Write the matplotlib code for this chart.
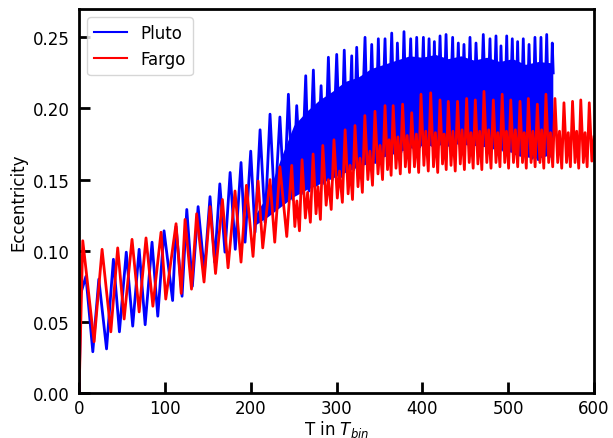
import numpy as np
import matplotlib.pyplot as plt

# Pluto: turning points (time in T_bin, eccentricity)
pluto_t = [0, 2, 8, 16, 23, 32, 40, 47, 55, 62.5, 70, 77, 85, 91.7, 99, 109, 113, 120,
           125.5, 132, 138.7, 146, 152.6, 158, 164, 170, 176, 182, 188.7, 193.4, 200,
           205, 210.9, 216.7, 222.5, 228, 234, 239,
           243.9, 249, 253.6, 259, 264.1, 268, 273, 277, 282, 286, 290.5, 295, 300.2,
           305, 309, 313, 317.7, 320, 323.5, 328, 333.2, 337, 341, 345, 348.7, 352,
           356.5, 360, 364.3, 368, 370.9, 375, 378.6, 382, 386.4, 390, 393.4, 397,
           401.2, 404, 407.8, 411, 414, 417, 420.6, 424, 427.6, 431, 435.3, 438,
           441.9, 445, 448.5, 452, 455.5, 459, 462.5, 467, 471, 475, 478.8, 482,
           485.8, 489, 491.6, 495, 498.3, 501, 504.8, 508, 511, 514, 517.6, 521,
           524.3, 528, 531.2, 535, 538.2, 541, 544.9, 548, 551.4, 552.5]
pluto_e = [0.0, 0.070, 0.082, 0.029, 0.080, 0.031, 0.094, 0.043, 0.099, 0.047, 0.101,
           0.048, 0.106, 0.054, 0.114, 0.065, 0.117, 0.068,
           0.129, 0.075, 0.131, 0.085, 0.138, 0.092, 0.147, 0.099, 0.155, 0.101,
           0.162, 0.106, 0.170, 0.113, 0.185, 0.120, 0.196, 0.129, 0.194, 0.136,
           0.210, 0.136, 0.202, 0.140, 0.223, 0.142, 0.227, 0.146, 0.216, 0.147,
           0.236, 0.150, 0.238, 0.152, 0.241, 0.155, 0.237, 0.157, 0.243, 0.158,
           0.250, 0.160, 0.245, 0.162, 0.249, 0.164, 0.249, 0.166, 0.253, 0.168,
           0.246, 0.169, 0.254, 0.170, 0.249, 0.172, 0.250, 0.173, 0.250, 0.174,
           0.249, 0.174, 0.247, 0.175, 0.251, 0.175, 0.252, 0.174, 0.250, 0.175,
           0.246, 0.176, 0.245, 0.175, 0.250, 0.174, 0.246, 0.175, 0.252, 0.173,
           0.249, 0.172, 0.251, 0.171, 0.244, 0.170, 0.251, 0.170, 0.249, 0.168,
           0.247, 0.167, 0.249, 0.166, 0.245, 0.165, 0.250, 0.164, 0.250, 0.163,
           0.252, 0.166, 0.246, 0.225]

# Pluto: solid band of fast oscillation (lower / upper edge)
band_t = [205, 220, 235, 250, 265, 280, 295, 310, 325, 340, 355, 370, 385, 400,
          415, 430, 445, 460, 475, 490, 505, 520, 535, 552]
band_lo = [0.118, 0.124, 0.131, 0.138, 0.143, 0.147, 0.151, 0.155, 0.159, 0.162,
           0.166, 0.169, 0.172, 0.174, 0.174, 0.175, 0.175, 0.174, 0.173, 0.171,
           0.169, 0.166, 0.165, 0.168]
band_hi = [0.125, 0.140, 0.165, 0.188, 0.198, 0.206, 0.212, 0.219, 0.222, 0.228,
           0.231, 0.234, 0.237, 0.236, 0.238, 0.235, 0.237, 0.234, 0.236, 0.233,
           0.235, 0.231, 0.233, 0.232]

# Fargo: turning points (peak, dip, secondary spike, dip, ...)
fargo_t = [0, 4.3, 17.5, 26.8, 37, 45, 52.5, 61.7, 70, 78, 86, 95.5, 101, 113, 119,
           123.5, 131, 137, 145.6, 152.6, 159, 167, 173.6, 181.7, 188.7, 195, 202.7,
           208.6, 214, 222.5, 228, 234, 242, 247.8,
           251.4, 253.8, 256.8, 259.8, 263.7, 266.3, 269.5, 272.7,
           276.1, 278.4, 281.2, 284, 287.9, 290.5, 293.8, 297,
           300.9, 303.5, 306.8, 310, 313.5, 315.8, 318.6, 321.5,
           325, 327.3, 330.1, 333, 336.5, 338.9, 341.9, 344.8,
           348.3, 350.7, 353.6, 356.5, 359.4, 361.3, 363.6, 366,
           369.3, 371.5, 374.3, 377, 380.2, 382.3, 385, 387.6,
           390.8, 393, 395.7, 398.4, 401.8, 404, 406.9, 409.7,
           413, 415.2, 417.9, 420.6, 423.5, 425.4, 427.8, 430.2,
           433.4, 435.6, 438.3, 441, 444.2, 446.3, 449, 451.6,
           454.6, 456.7, 459.2, 461.7, 464.7, 466.8, 469.3, 471.8,
           475.1, 477.3, 480, 482.7, 485.8, 487.9, 490.4, 493,
           496, 498, 500.5, 503, 506.2, 508.4, 511.1, 513.8,
           516.7, 518.7, 521.1, 523.5, 526.7, 528.8, 531.4, 534,
           537, 539, 541.5, 544, 547.2, 549.3, 551.9, 554.5,
           557.7, 559.8, 562.4, 565, 568, 570, 572.5, 575,
           577.9, 579.8, 582.2, 584.6, 587.6, 589.6, 592, 594.5, 597.5, 600]
fargo_e = [0.0, 0.107, 0.036, 0.101, 0.043, 0.102, 0.052, 0.108, 0.057, 0.109, 0.061,
           0.113, 0.066, 0.119, 0.070, 0.122, 0.073, 0.126, 0.078, 0.131, 0.084, 0.136,
           0.088, 0.142, 0.092, 0.146, 0.096, 0.149, 0.102, 0.150, 0.106, 0.159, 0.110,
           0.160,
           0.117, 0.135, 0.114, 0.164, 0.123, 0.141, 0.120, 0.168,
           0.126, 0.145, 0.122, 0.174, 0.132, 0.150, 0.129, 0.178,
           0.137, 0.156, 0.134, 0.185, 0.140, 0.160, 0.136, 0.188,
           0.145, 0.165, 0.141, 0.195, 0.150, 0.170, 0.146, 0.198,
           0.154, 0.174, 0.150, 0.202, 0.157, 0.178, 0.153, 0.202,
           0.158, 0.180, 0.154, 0.203, 0.159, 0.181, 0.155, 0.197,
           0.159, 0.182, 0.155, 0.210, 0.160, 0.184, 0.156, 0.211,
           0.159, 0.183, 0.155, 0.206, 0.161, 0.182, 0.157, 0.205,
           0.160, 0.184, 0.156, 0.205, 0.161, 0.185, 0.157, 0.207,
           0.162, 0.183, 0.158, 0.206, 0.161, 0.184, 0.157, 0.212,
           0.162, 0.185, 0.158, 0.206, 0.162, 0.183, 0.159, 0.210,
           0.162, 0.184, 0.158, 0.206, 0.162, 0.185, 0.159, 0.205,
           0.162, 0.183, 0.158, 0.207, 0.162, 0.184, 0.159, 0.203,
           0.162, 0.185, 0.158, 0.210, 0.162, 0.183, 0.159, 0.207,
           0.162, 0.184, 0.158, 0.204, 0.162, 0.183, 0.159, 0.205,
           0.162, 0.184, 0.158, 0.206, 0.162, 0.183, 0.159, 0.204, 0.163, 0.180]

fig = plt.figure(figsize=(6.13, 4.39), dpi=100)
ax = fig.add_axes([0.129, 0.1025, 0.840, 0.875])

ax.fill_between(band_t, band_lo, band_hi, color='blue', lw=0)
ax.plot(pluto_t, pluto_e, color='blue', lw=2, label='Pluto')
ax.plot(fargo_t, fargo_e, color='red', lw=2, label='Fargo')

ax.set_xlim(0, 600)
ax.set_ylim(0, 0.27)
ax.set_xticks(np.arange(0, 601, 100))
ax.set_yticks([0.0, 0.05, 0.10, 0.15, 0.20, 0.25])
ax.set_yticklabels(['0.00', '0.05', '0.10', '0.15', '0.20', '0.25'])
ax.tick_params(direction='in', length=8, width=2, labelsize=12)
ax.tick_params(axis='x', pad=4)
ax.tick_params(axis='y', pad=7)
for s in ax.spines.values():
    s.set_linewidth(2)

ax.set_xlabel('T in $T_{bin}$', fontsize=12, labelpad=1)
ax.set_ylabel('Eccentricity', fontsize=12)
leg = ax.legend(loc='upper left', fontsize=12)
for h in leg.get_lines():
    h.set_linewidth(1.5)

fig.savefig('out.png', dpi=100)
